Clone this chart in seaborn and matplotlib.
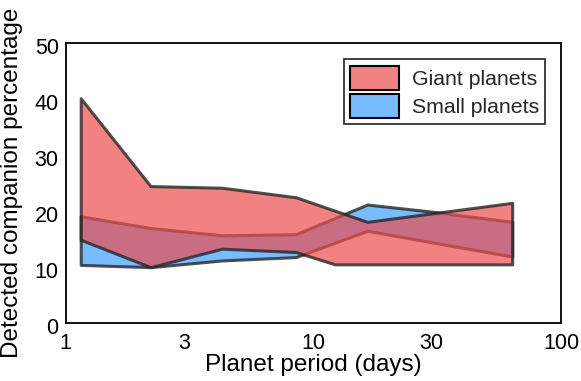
import numpy as np
import pandas as pd
import seaborn as sns
import matplotlib
matplotlib.use("Agg")
import matplotlib.pyplot as plt
from matplotlib.transforms import ScaledTranslation

# period (days) and lower / upper bound of the band (%)
giant_period = [1.15, 2.2, 4.28, 8.5, 12.2, 16.5, 63.4]
giant_low = [14.9, 10.0, 13.3, 12.7, 10.5, 10.5, 10.5]
giant_high = [40.2, 24.5, 24.2, 22.5, 20.1, 18.1, 21.5]

small_period = [1.15, 2.2, 4.28, 8.5, 16.5, 30.4, 63.4]
small_low = [10.4, 10.0, 11.2, 11.8, 16.5, 14.4, 11.9]
small_high = [19.1, 17.0, 15.7, 15.9, 21.2, 19.9, 18.1]

x_ticks = [1, 3, 10, 30, 100]
y_ticks = [0, 10, 20, 30, 40, 50]

sns.set_theme(style="white")
plt.rcParams['font.family'] = ['Liberation Sans', 'DejaVu Sans']

fig = plt.figure(figsize=(5.81, 3.81), dpi=100)
ax = fig.add_axes([0.113, 0.152, 0.853, 0.734])

edge = (0.15, 0.15, 0.15, 0.8)
blue = (0.12, 0.56, 1.0, 0.6)
red = (0.93, 0.3, 0.3, 0.7)

df_small = pd.DataFrame({"period": small_period, "low": small_low, "high": small_high})
df_giant = pd.DataFrame({"period": giant_period, "low": giant_low, "high": giant_high})

ax.fill_between(df_small["period"], df_small["low"], df_small["high"],
                facecolor=blue, edgecolor=edge, linewidth=2.2, label="Small planets")
ax.fill_between(df_giant["period"], df_giant["low"], df_giant["high"],
                facecolor=red, edgecolor=edge, linewidth=2.2, label="Giant planets")

ax.set_xscale("log")
ax.set_xlim(1, 100)
ax.set_ylim(0, 50)
ax.set_xticks(x_ticks)
ax.set_xticklabels([str(t) for t in x_ticks])
ax.minorticks_off()
ax.set_yticks(y_ticks)
ax.tick_params(length=0, labelsize=15.5, colors="black")
ax.tick_params(axis="x", pad=7)
ax.tick_params(axis="y", pad=5)
# y labels sit a little below their gridline in the original
shift = ScaledTranslation(0, -0.03, fig.dpi_scale_trans)
for lab in ax.get_yticklabels():
    lab.set_transform(lab.get_transform() + shift)
ax.set_xlabel("Planet period (days)", fontsize=17.5, color="black", labelpad=0)
ax.set_ylabel("Detected companion percentage", fontsize=17.5, color="black", labelpad=8)
for s in ax.spines.values():
    s.set_color("black")
    s.set_linewidth(1.3)

handles, labels = ax.get_legend_handles_labels()
leg = ax.legend(handles[::-1], labels[::-1], loc="upper right", fontsize=15.3,
                frameon=True, fancybox=False, edgecolor="black",
                handlelength=2.3, handleheight=1.35, borderaxespad=0.75,
                labelspacing=0.2, handletextpad=0.6, borderpad=0.3)
leg.get_frame().set_linewidth(1.3)
for h in leg.legend_handles:
    h.set_edgecolor("black")
    h.set_linewidth(1.5)

fig.savefig("out.png", dpi=100)
